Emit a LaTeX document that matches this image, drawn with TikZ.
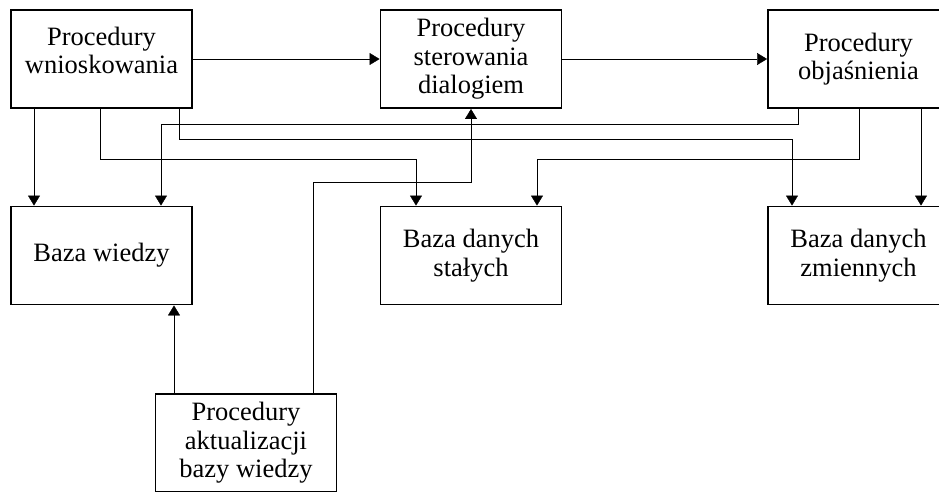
\documentclass[tikz,border=0pt]{standalone}
\usepackage{fontspec}
\setmainfont{Liberation Serif}
\usepackage{tikz}
\usetikzlibrary{
  positioning,
  arrows.meta
}
\tikzset{
  ->,
  >={Triangle[length=10pt,width=12pt]},
  line width=1.7pt,
  draw=black!80,
  block/.style={draw, line width=1.9pt, fill=white, minimum width=181pt,
    minimum height=98pt, inner sep=0pt, align=center,
    font=\fontsize{26.5}{28.5}\selectfont}
}

\begin{document}
\begin{tikzpicture}[x=1pt, y=-1pt]
    \useasboundingbox (0,0) rectangle (939,491);
    \node[block, text depth=17pt] (wnio) at (101.5,59) {Procedury\\wnioskowania};
    \node[block] (ster) at (471,59) {Procedury\\sterowania\\dialogiem};
    \node[block] (obja) at (858.5,59) {Procedury\\objaśnienia};
    \node[block] (wiedza) at (101.5,255.5) {Baza wiedzy};
    \node[block] (stale) at (471,255.5) {Baza danych\\stałych};
    \node[block] (zmienne) at (858.5,255.5) {Baza danych\\zmiennych};
    \node[block] (aktu) at (246,443) {Procedury\\aktualizacji\\bazy wiedzy};
    \draw (wnio.east) -- (ster.west);
    \draw (ster.east) -- (obja.west);
    \draw ([xshift=-67.5pt]wnio.south) -- ([xshift=-67.5pt]wiedza.north);
    \draw ([xshift=-1.5pt]wnio.south) -- ++(0,50) -| ([xshift=-55pt]stale.north);
    \draw ([xshift=77.5pt]wnio.south) -- ++(0,30) -| ([xshift=-66.5pt]zmienne.north);
    \draw ([xshift=-60.5pt]obja.south) -- ++(0,15) -| ([xshift=59.5pt]wiedza.north);
    \draw ([xshift=0.5pt]obja.south) -- ++(0,50) -| ([xshift=66pt]stale.north);
    \draw ([xshift=62.5pt]obja.south) -- ([xshift=62.5pt]zmienne.north);
    \draw ([xshift=-72pt]aktu.north) -- ([xshift=72.5pt]wiedza.south);
    \draw ([xshift=67pt]aktu.north) -- ++(0,-211) -| (ster.south);
  \end{tikzpicture}
\end{document}
